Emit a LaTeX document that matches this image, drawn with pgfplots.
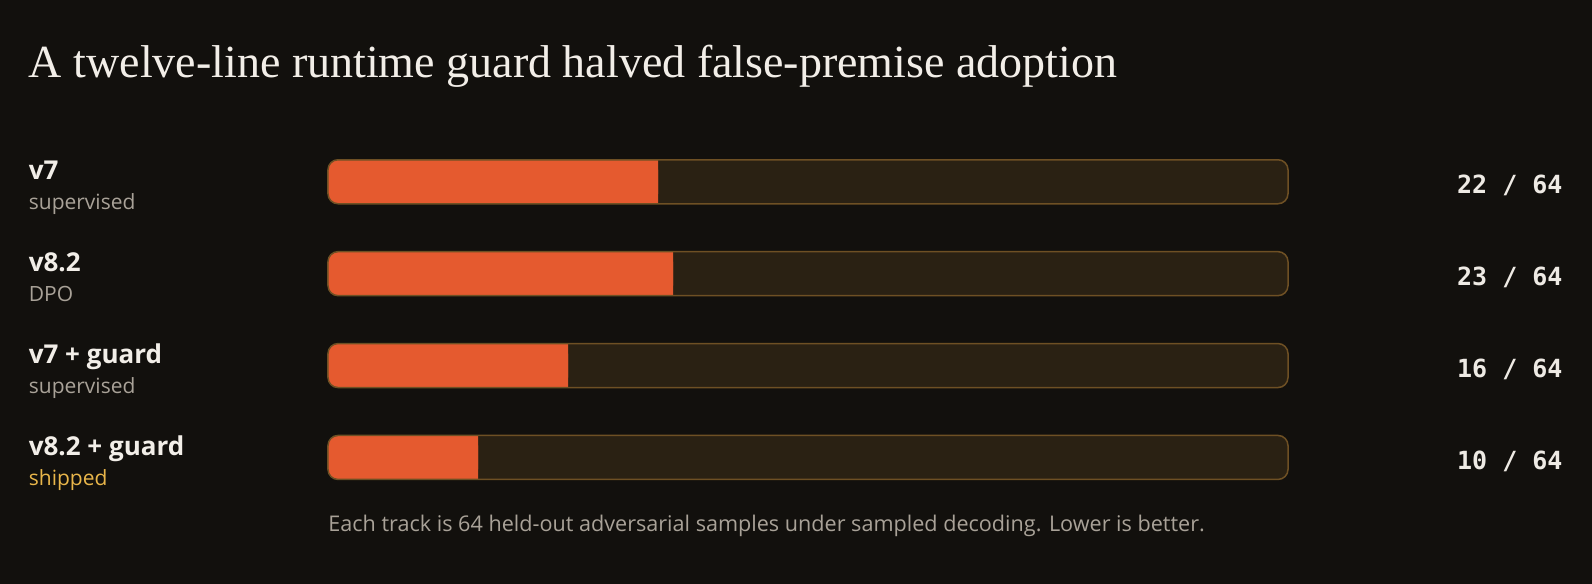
\documentclass[border=0pt]{standalone}
\usepackage{pgfplots}
\pgfplotsset{compat=1.18}
\usepackage{pgfplotstable}
\usepackage{fontspec}
\setmainfont{Open Sans}
\newfontfamily\titlefont{Liberation Serif}
\newfontfamily\numfont{DejaVu Sans Mono}

\definecolor{bg}{HTML}{12100D}
\definecolor{track}{HTML}{2A2113}
\definecolor{trackedge}{HTML}{6E5024}
\definecolor{fillc}{HTML}{E55A2F}
\definecolor{labc}{HTML}{F2EEE8}
\definecolor{subc}{HTML}{A9A298}
\definecolor{shipc}{HTML}{E9B64A}
\definecolor{numc}{HTML}{EEEAE4}

% false-premise adoptions out of 64 samples, one row per model
\pgfplotstableread{
row v
0 22
1 23
2 16
3 10
}\rates

\pgfplotsset{
  rowaxis/.style={
    at={(164pt,40.3pt)}, anchor=south west,
    width=480pt, height=183.8pt, scale only axis,
    xmin=0, xmax=64, ymin=-0.5, ymax=3.5, y dir=reverse,
    axis lines=none, clip=false,
    xtick=\empty, ytick=\empty,
    /pgf/number format/assume math mode=true,
  },
}
\tikzset{
  labmain/.style={anchor=base west, inner sep=0pt, text=labc,
    font=\bfseries\fontsize{13}{15}\selectfont, yshift=0.9pt},
  labsub/.style={anchor=base west, inner sep=0pt, text=subc,
    font=\fontsize{10.5}{12}\selectfont, yshift=-14.1pt},
}

\begin{document}
\begin{tikzpicture}
\fill[bg] (0,0) rectangle (796pt,292pt);

\node[anchor=base west, inner sep=0pt, text=labc,
  font=\titlefont\fontsize{23}{27}\selectfont] at (14.25pt,253pt)
  {A twelve-line runtime guard halved false-premise adoption};

% tracks and rounded fills
\begin{axis}[rowaxis]
  \addplot[xbar, bar shift=0pt, bar width=22pt, fill=track, draw=none,
    rounded corners=5pt] table[x expr=64, y=row] {\rates};
  \addplot[xbar, bar shift=0pt, bar width=22pt, fill=fillc, draw=none,
    rounded corners=5pt] table[x=v, y=row] {\rates};
\end{axis}

% square right end of each fill
\begin{axis}[rowaxis, stack plots=x]
  \addplot[xbar, bar shift=0pt, bar width=22pt, fill=none, draw=none]
    table[x expr=2, y=row] {\rates};
  \addplot[xbar, bar shift=0pt, bar width=22pt, fill=fillc, draw=none]
    table[x expr=\thisrow{v}-2, y=row] {\rates};
\end{axis}

% track outlines, labels and counts
\begin{axis}[rowaxis]
  \addplot[xbar, bar shift=0pt, bar width=22pt, fill=none, draw=trackedge,
    line width=0.75pt, rounded corners=5pt] table[x expr=64, y=row] {\rates};

  \addplot[draw=none, mark=none, point meta=explicit,
    nodes near coords={\pgfmathprintnumber{\pgfplotspointmeta}~/~64},
    every node near coord/.style={anchor=base east, inner sep=0pt,
      yshift=-6.1pt, text=numc, font=\numfont\bfseries\fontsize{12.5}{14}\selectfont}]
    table[x expr=82.33, y=row, meta=v] {\rates};

  \node[labmain] at (axis cs:-19.97,0) {v7};
  \node[labsub]  at (axis cs:-19.97,0) {supervised};
  \node[labmain] at (axis cs:-19.97,1) {v8.2};
  \node[labsub]  at (axis cs:-19.97,1) {DPO};
  \node[labmain] at (axis cs:-19.97,2) {v7 + guard};
  \node[labsub]  at (axis cs:-19.97,2) {supervised};
  \node[labmain] at (axis cs:-19.97,3) {v8.2 + guard};
  \node[labsub, text=shipc] at (axis cs:-19.97,3) {shipped};

  \node[anchor=base west, inner sep=0pt, text=subc, yshift=-14.1pt,
    font=\fontsize{10.8}{13}\selectfont] at (axis cs:0,3.5)
    {Each track is 64 held-out adversarial samples under sampled decoding. Lower is better.};
\end{axis}

\pgfresetboundingbox
\useasboundingbox (0,0) rectangle (796pt,292pt);
\end{tikzpicture}
\end{document}
